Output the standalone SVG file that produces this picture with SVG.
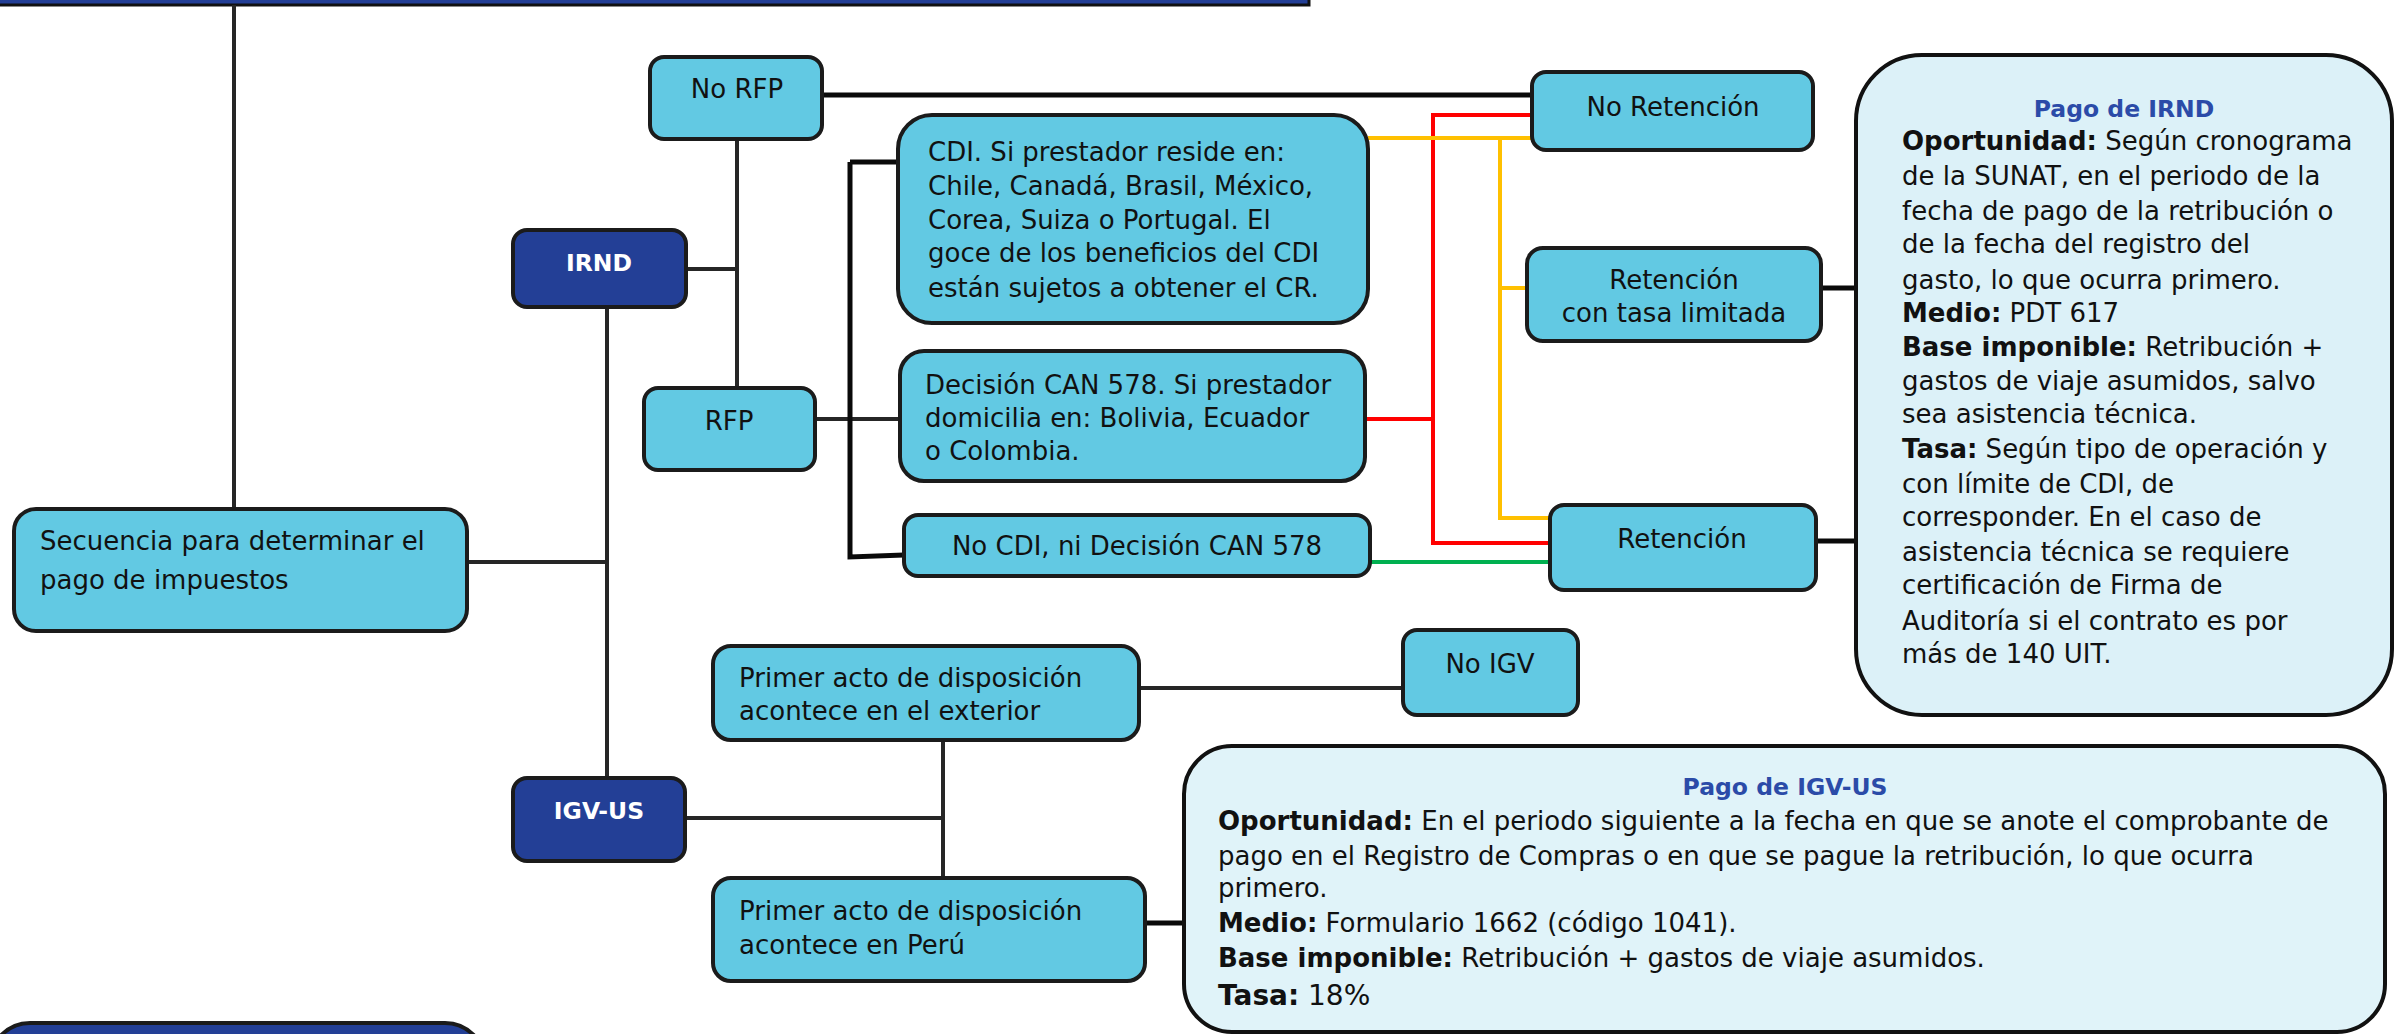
<svg xmlns="http://www.w3.org/2000/svg" width="2403" height="1034" viewBox="0 0 2403 1034">
<style>
text{font-family:"DejaVu Sans","Verdana",sans-serif;font-size:26px;fill:#111}
.n{fill:#62C9E3;stroke:#1b1b1b;stroke-width:4}
.d{fill:#233F96;stroke:#1b1b1b;stroke-width:4}
.p{fill:#DCF1F8;stroke:#111;stroke-width:4}
.w{fill:#fff;font-weight:bold;font-size:23.5px}
.c{text-anchor:middle}
.t{fill:#2B4BA8;font-weight:bold;font-size:23.5px}
.b{font-weight:bold}
#connectors path{fill:none;stroke:#262626;stroke-width:4}
#connectors path.k{stroke:#0a0a0a;stroke-width:5}
#connectors path.y{stroke:#FFC000}
#connectors path.r{stroke:#FF0000}
#connectors path.g{stroke:#00B050}
</style>
<rect width="2403" height="1034" fill="#fff"/>
<g id="banner"><rect x="-10" y="-60" width="1319" height="65" fill="#233F96" stroke="#111" stroke-width="3"/></g>
<g id="connectors">
<path d="M234 5V512"/>
<path d="M467 562H607"/>
<path d="M607 307V778"/>
<path d="M686 269H737"/>
<path d="M737 139V388"/>
<path class="k" d="M822 95H1532"/>
<path d="M815 419H900"/>
<path class="k" d="M850 162V557L904 555"/>
<path class="k" d="M850 162H898"/>
<path class="k" d="M1821 288H1856"/>
<path class="k" d="M1816 541H1856"/>
<path d="M685 818H943"/>
<path d="M943 740V878"/>
<path d="M1139 688H1403"/>
<path class="k" d="M1145 923H1184"/>
<path class="r" d="M1365 419H1433"/>
<path class="r" d="M1532 115H1433V543H1550"/>
<path class="y" d="M1368 138H1532"/>
<path class="y" d="M1500 138V518H1550"/>
<path class="y" d="M1500 288H1527"/>
<path class="g" d="M1370 562H1550"/>
</g>
<g id="n-secuencia"><rect class="n" x="14" y="509" width="453" height="122" rx="22"/>
<text x="40" y="550">Secuencia para determinar el</text><text x="40" y="589">pago de impuestos</text></g>
<g id="n-irnd"><rect class="d" x="513" y="230" width="173" height="77" rx="14"/><text class="w c" x="599" y="271">IRND</text></g>
<g id="n-igvus"><rect class="d" x="513" y="778" width="172" height="83" rx="14"/><text class="w c" x="599" y="819">IGV-US</text></g>
<g id="n-norfp"><rect class="n" x="650" y="57" width="172" height="82" rx="14"/><text class="c" x="737" y="98">No RFP</text></g>
<g id="n-rfp"><rect class="n" x="644" y="388" width="171" height="82" rx="14"/><text class="c" x="729" y="430">RFP</text></g>
<g id="n-cdi"><rect class="n" x="898" y="115" width="470" height="208" rx="34"/>
<text x="928" y="161">CDI. Si prestador reside en:</text>
<text x="928" y="195">Chile, Canadá, Brasil, México,</text>
<text x="928" y="229">Corea, Suiza o Portugal. El</text>
<text x="928" y="262">goce de los beneficios del CDI</text>
<text x="928" y="297">están sujetos a obtener el CR.</text></g>
<g id="n-can"><rect class="n" x="900" y="351" width="465" height="130" rx="24"/>
<text x="925" y="394">Decisión CAN 578. Si prestador</text>
<text x="925" y="427">domicilia en: Bolivia, Ecuador</text>
<text x="925" y="460">o Colombia.</text></g>
<g id="n-nocdi"><rect class="n" x="904" y="515" width="466" height="61" rx="14"/><text class="c" x="1137" y="555">No CDI, ni Decisión CAN 578</text></g>
<g id="n-noret"><rect class="n" x="1532" y="72" width="281" height="78" rx="14"/><text class="c" x="1673" y="116">No Retención</text></g>
<g id="n-rettasa"><rect class="n" x="1527" y="248" width="294" height="93" rx="16"/>
<text class="c" x="1674" y="289">Retención</text><text class="c" x="1674" y="322">con tasa limitada</text></g>
<g id="n-ret"><rect class="n" x="1550" y="505" width="266" height="85" rx="14"/><text class="c" x="1682" y="548">Retención</text></g>
<g id="n-pagoirnd"><rect class="p" x="1856" y="55" width="536" height="660" rx="66"/>
<text class="t c" x="2124" y="117">Pago de IRND</text>
<text x="1902" y="150"><tspan class="b">Oportunidad:</tspan> Según cronograma</text>
<text x="1902" y="185">de la SUNAT, en el periodo de la</text>
<text x="1902" y="220">fecha de pago de la retribución o</text>
<text x="1902" y="253">de la fecha del registro del</text>
<text x="1902" y="289">gasto, lo que ocurra primero.</text>
<text x="1902" y="322"><tspan class="b">Medio:</tspan> PDT 617</text>
<text x="1902" y="356"><tspan class="b">Base imponible:</tspan> Retribución +</text>
<text x="1902" y="390">gastos de viaje asumidos, salvo</text>
<text x="1902" y="423">sea asistencia técnica.</text>
<text x="1902" y="458"><tspan class="b">Tasa:</tspan> Según tipo de operación y</text>
<text x="1902" y="493">con límite de CDI, de</text>
<text x="1902" y="526">corresponder. En el caso de</text>
<text x="1902" y="561">asistencia técnica se requiere</text>
<text x="1902" y="594">certificación de Firma de</text>
<text x="1902" y="630">Auditoría si el contrato es por</text>
<text x="1902" y="663">más de 140 UIT.</text></g>
<g id="n-exterior"><rect class="n" x="713" y="646" width="426" height="94" rx="18"/>
<text x="739" y="687">Primer acto de disposición</text><text x="739" y="720">acontece en el exterior</text></g>
<g id="n-noigv"><rect class="n" x="1403" y="630" width="175" height="85" rx="14"/><text class="c" x="1490" y="673">No IGV</text></g>
<g id="n-peru"><rect class="n" x="713" y="878" width="432" height="103" rx="18"/>
<text x="739" y="920">Primer acto de disposición</text><text x="739" y="954">acontece en Perú</text></g>
<g id="n-pagoigv"><rect class="p" x="1184" y="746" width="1201" height="286" rx="48" style="fill:#E0F3F9"/>
<text class="t c" x="1785" y="795">Pago de IGV-US</text>
<text x="1218" y="830"><tspan class="b">Oportunidad:</tspan> En el periodo siguiente a la fecha en que se anote el comprobante de</text>
<text x="1218" y="865">pago en el Registro de Compras o en que se pague la retribución, lo que ocurra</text>
<text x="1218" y="897">primero.</text>
<text x="1218" y="932"><tspan class="b">Medio:</tspan> Formulario 1662 (código 1041).</text>
<text x="1218" y="967"><tspan class="b">Base imponible:</tspan> Retribución + gastos de viaje asumidos.</text>
<text x="1218" y="1005" style="font-size:28px"><tspan class="b">Tasa:</tspan> 18%</text></g>
<g id="n-bottom"><rect class="d" x="-10" y="1023" width="495" height="100" rx="40"/></g>
</svg>
